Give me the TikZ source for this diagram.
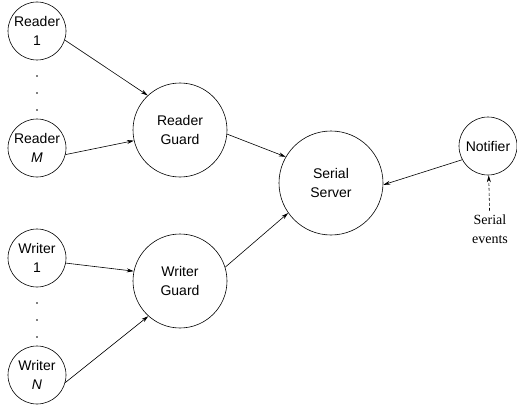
\documentclass[tikz,border=0pt]{standalone}
\usepackage{fontspec}
\setmainfont{Liberation Serif}
\setsansfont{Liberation Sans}
\usetikzlibrary{arrows.meta}
\begin{document}
\begin{tikzpicture}[x=1pt,y=-1pt,
  line width=0.6pt,
  proc/.style={circle,draw,inner sep=0pt,align=center,font=\sffamily\fontsize{14}{19}\selectfont},
  small/.style={proc,minimum size=58pt},
  big/.style={proc,minimum size=94pt},
  huge/.style={proc,minimum size=104pt},
  flow/.style={-{Stealth[length=7pt,width=4pt]}},
  dotmark/.style={circle,fill,inner sep=0pt,minimum size=1.6pt}]
\useasboundingbox (0,0) rectangle (517,412);

% clients
\node[small] (r1) at (37,31) {Reader\\1};
\node[small] (rm) at (37,148) {Reader\\\textit{M}};
\node[small] (w1) at (37,258) {Writer\\1};
\node[small] (wn) at (37,375) {Writer\\\textit{N}};

% elided clients
\foreach \y [count=\i] in {76,93,110} \node[dotmark] (rd\i) at (37,\y) {};
\foreach \y [count=\i] in {303,320,337} \node[dotmark] (wd\i) at (37,\y) {};

% guards and server
\node[big] (rg) at (180,130) {Reader\\Guard};
\node[big] (wg) at (180,281) {Writer\\Guard};
\node[huge] (ss) at (331,183) {Serial\\Server};
\node[small] (nt) at (488,146) {Notifier};

% event source
\node[align=center,font=\fontsize{14}{19}\selectfont] (ev) at (490,229) {Serial\\events};

% connections
\draw[flow] (r1.-18) -- (rg.133);
\draw[flow] (rm.-13) -- (rg.193);
\draw[flow] (w1.-10) -- (wg.168);
\draw[flow] (wn.-15) -- (wg.228);
\draw[flow] (rg.-5) -- (ss.150);
\draw[flow] (wg.17) -- (ss.215);
\draw[flow] (nt.208) -- (ss.-2);
\draw[flow,dashed,dash pattern=on 3pt off 2pt] (ev) -- (nt);
\end{tikzpicture}
\end{document}
